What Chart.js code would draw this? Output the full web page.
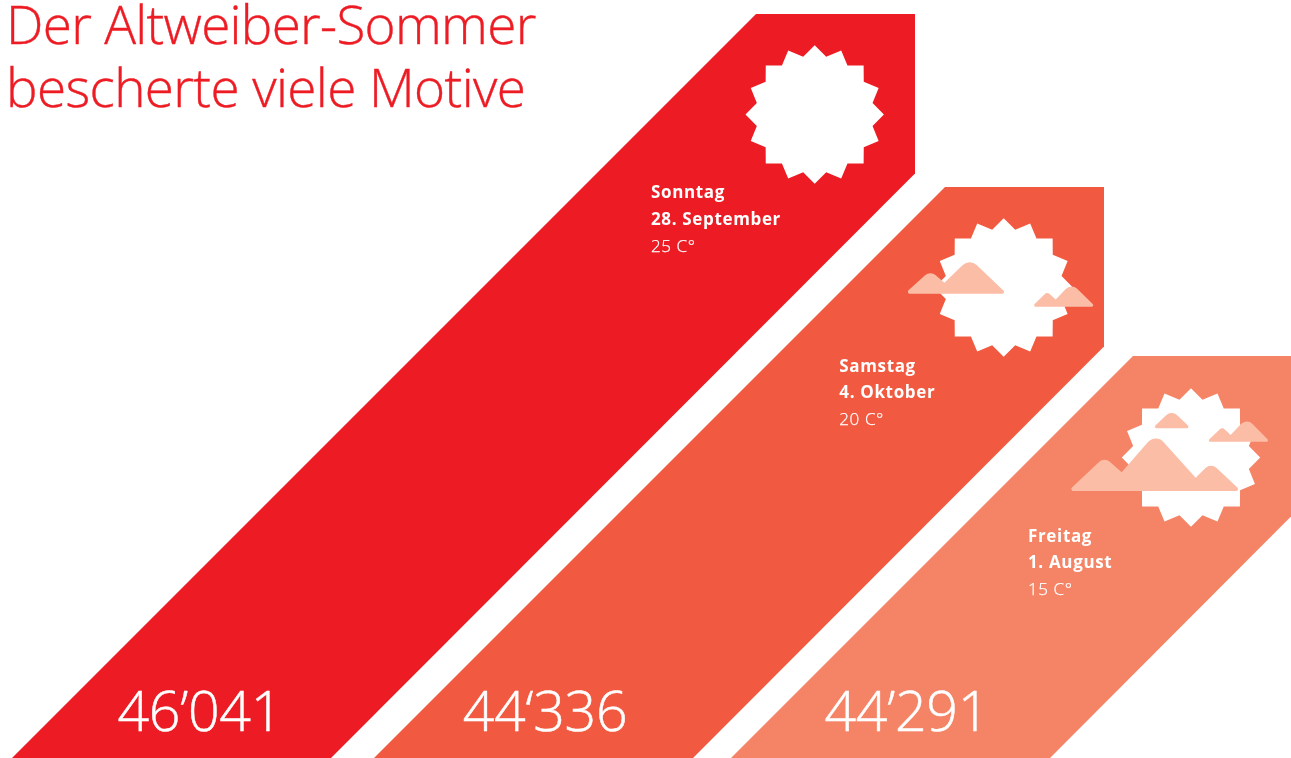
<!DOCTYPE html>
<html lang="de">
<head>
<meta charset="utf-8">
<title>Der Altweiber-Sommer bescherte viele Motive</title>
<style>html,body{margin:0;padding:0;background:#fff;overflow:hidden}canvas{display:block}</style>
<script src="https://cdn.jsdelivr.net/npm/chart.js@4"></script>
</head>
<body>
<canvas id="c" width="1291" height="758"></canvas>
<script>
const titleLines = ["Der Altweiber-Sommer", "bescherte viele Motive"];
const weekdays = ["Sonntag", "Samstag", "Freitag"];
const dates = ["28. September", "4. Oktober", "1. August"];
const temperatures = [25, 20, 15];
const motifs = [46041, 44336, 44291];
const motifLabels = ["46’041", "44‘336", "44’291"];
const ribbonLengths = [744, 571, 402];

const ribbonColors = ["#ed1c24", "#f15a40", "#f58466"];
const cloudColor = "#fbbda6";
const FONT = '"Open Sans"';
// Horizontal layout corrections and label anchors (px), not data
const ribbonShift = [0, 2.5, 0];
const numberCentre = [199.8, 545, 906.8];
const sunShift = [0, 0, -0.7];
const labelShift = [0, -0.7, 0];
const cloudShapes = [
  [],
  [
    {o:[310,231], p:[[13,250,2],[90,180,8],[132,217,0],[208,144,10],[320,250,2]]},
    {o:[310,231], p:[[395,288.5,1.5],[440,244,4],[466,267,0],[513,218,8],[585,288.5,1.5]]}
  ],
  [
    {o:[378,232.5], p:[[263,144.5,1.5],[320,90,8],[377,144.5,1.5]]},
    {o:[378,232.5], p:[[425,185.5,1.5],[472,141,4],[497,165,0],[545,114,8],[615,185.5,1.5]]},
    {o:[378,232.5], p:[[10,333,2],[118,231,8],[170,277,0],[272,160,10],[392,293,0],[438,248,8],[528,333,2]]}
  ]
];

function star(ctx, cx, cy) {
  ctx.beginPath();
  for (let i = 0; i < 32; i++) {
    const r = i % 2 ? 59 : 69.2, a = -Math.PI / 2 + i * Math.PI / 16;
    const x = cx + r * Math.cos(a), y = cy + r * Math.sin(a);
    i ? ctx.lineTo(x, y) : ctx.moveTo(x, y);
  }
  ctx.closePath();
  ctx.fill();
}
function cloud(ctx, cx, cy, shape) {
  const pts = shape.p.map(q => [cx + (q[0] - shape.o[0]) / 3, cy + (q[1] - shape.o[1]) / 3, q[2]]);
  const n = pts.length;
  const a = pts[0], b = pts[n - 1];
  ctx.beginPath();
  ctx.moveTo((a[0] + b[0]) / 2, (a[1] + b[1]) / 2);
  for (let i = 0; i < n; i++) {
    const p = pts[i], q = pts[(i + 1) % n];
    ctx.arcTo(p[0], p[1], q[0], q[1], p[2]);
  }
  ctx.closePath();
  ctx.fill();
}
function text(ctx, s, x, y, font, color, spacing, align, stroke) {
  ctx.font = font;
  ctx.fillStyle = color;
  ctx.textAlign = align || "left";
  ctx.textBaseline = "alphabetic";
  ctx.letterSpacing = spacing || "0px";
  ctx.fillText(s, x, y);
  if (stroke) {
    ctx.strokeStyle = color;
    ctx.lineWidth = stroke;
    ctx.strokeText(s, x, y);
  }
}

const ribbonPlugin = {
  id: "ribbon",
  beforeDatasetDraw(chart, args) {
    const ctx = chart.ctx;
    args.meta.data.forEach((bar, i) => {
      const left = bar.x - bar.width / 2 + ribbonShift[i];
      const h = bar.base - bar.y;
      const topL = left + h, topR = topL + Math.floor(bar.width / 2);
      const notch = bar.y + bar.width / 2;
      ctx.save();
      ctx.fillStyle = bar.options.backgroundColor;
      ctx.beginPath();
      ctx.moveTo(left, bar.base);
      ctx.lineTo(topL, bar.y);
      ctx.lineTo(topR, bar.y);
      ctx.lineTo(topR, notch);
      ctx.lineTo(left + bar.width, bar.base);
      ctx.closePath();
      ctx.fill();

      const sx = topR - 100.3 + sunShift[i], sy = bar.y + 100.5 + (i === 2 ? 1 : 0);
      ctx.fillStyle = "#fff";
      star(ctx, sx, sy);
      ctx.fillStyle = cloudColor;
      cloudShapes[i].forEach(s => cloud(ctx, sx, sy, s));

      const lx = topR - 264 + labelShift[i];
      const ly = bar.y + 184 + i * 0.8;
      text(ctx, weekdays[i], lx, ly, '700 17px ' + FONT, "#fff", "0.65px");
      text(ctx, dates[i], lx, ly + 26.5, '700 17px ' + FONT, "#fff", "0.65px");
      text(ctx, temperatures[i] + " C°", lx, ly + 53.5, '300 17px ' + FONT, "#fff", "0.6px", "left", 0.25);
      text(ctx, motifLabels[i], numberCentre[i], 731, '300 55.5px ' + FONT, "#fff", "-0.3px", "center", 0.5);
      ctx.restore();
    });
    return false;
  },
  afterDraw(chart) {
    const ctx = chart.ctx;
    ctx.save();
    text(ctx, titleLines[0], 6, 44, '300 53px ' + FONT, "#ed1c24", "-0.7px", "left", 0.4);
    text(ctx, titleLines[1], 6, 107, '300 53px ' + FONT, "#ed1c24", "-0.6px", "left", 0.4);
    ctx.restore();
  }
};

new Chart(document.getElementById("c"), {
  type: "bar",
  data: {
    labels: weekdays,
    datasets: [{ label: "Motive", data: ribbonLengths, backgroundColor: ribbonColors, barThickness: 319 }]
  },
  options: {
    responsive: false,
    animation: false,
    layout: { padding: { left: 171.5, right: 400.5, top: 0, bottom: 0 } },
    scales: {
      x: { display: false, offset: false },
      y: { display: false, min: 0, max: 758 }
    },
    plugins: { legend: { display: false }, tooltip: { enabled: false }, title: { display: false } }
  },
  plugins: [ribbonPlugin]
});
</script>
</body>
</html>
